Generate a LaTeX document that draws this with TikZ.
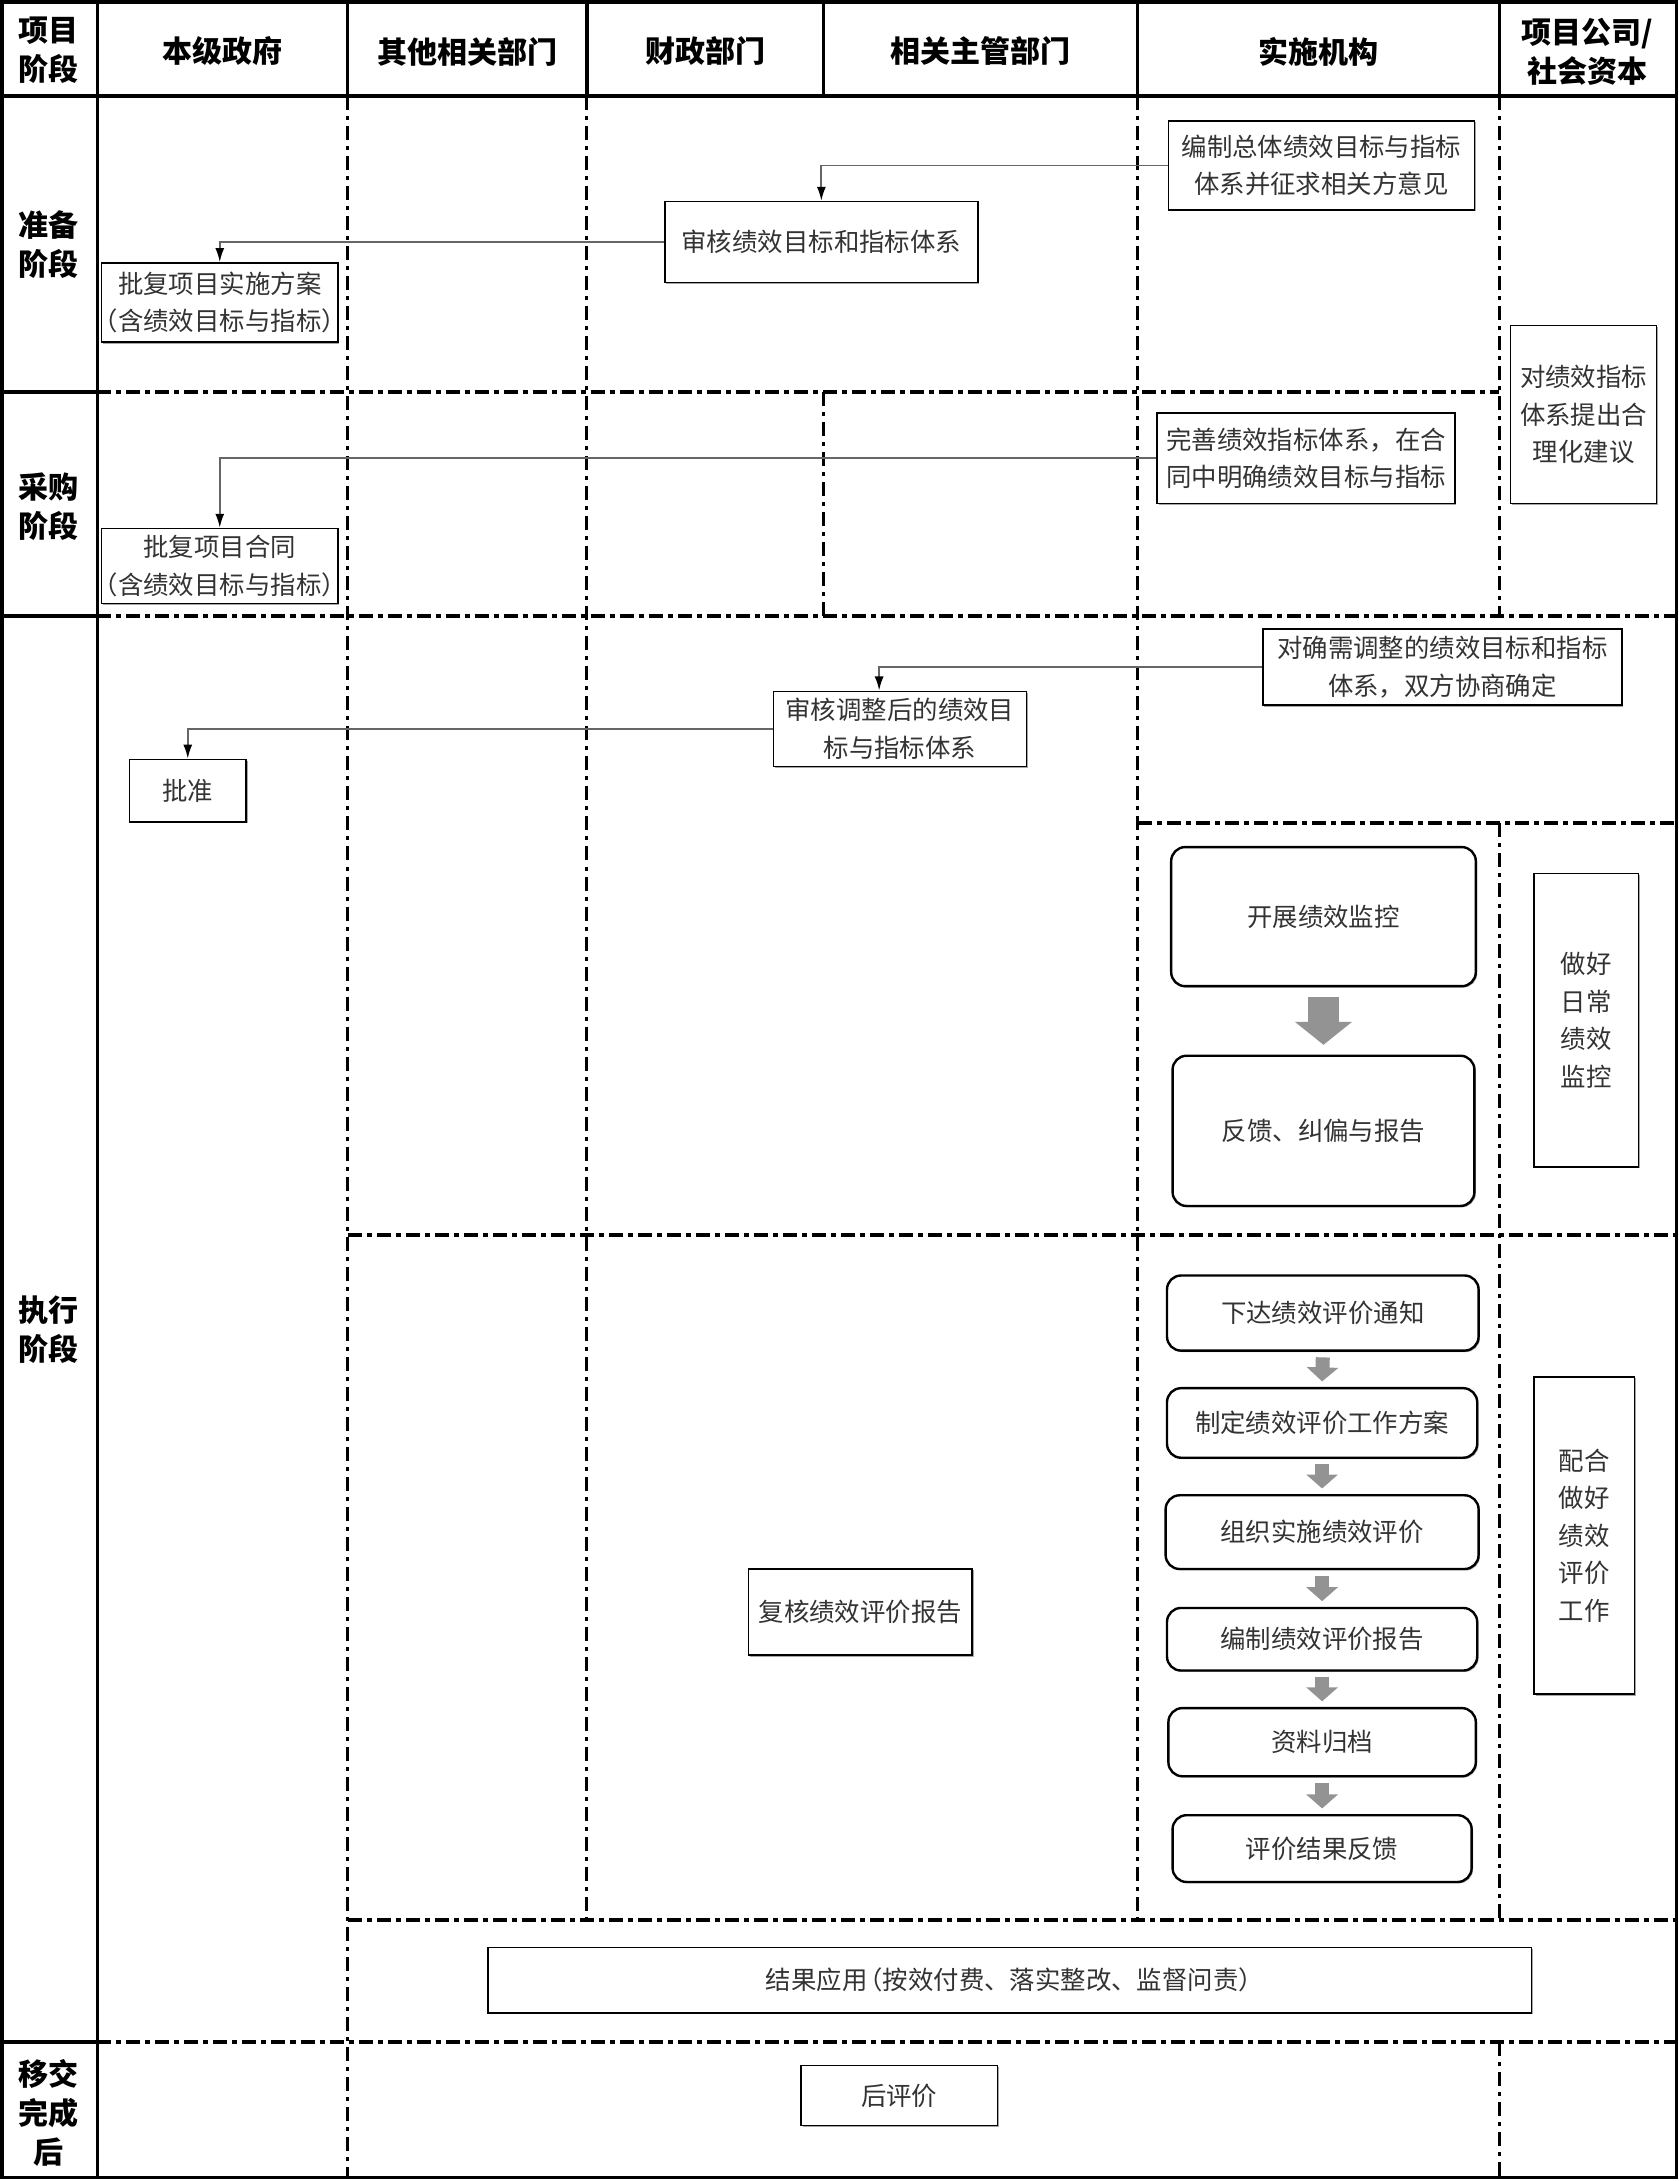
\documentclass[tikz,border=0pt]{standalone}
\usepackage{fontspec}
\setmainfont{Noto Sans CJK SC}
\usetikzlibrary{arrows.meta,shadows,calc}
\newcommand\bodyfont{\fontsize{12.7}{18.8}\selectfont}
\newcommand\hdrfont{\fontsize{15}{19.5}\selectfont\bfseries}
\newcommand\lpar{\makebox[0.6em][r]{（}}
\newcommand\rpar{\makebox[0.6em][l]{）}}
\tikzset{
  sq/.style={draw=black, line width=0.8pt, fill=white, align=center, inner sep=0pt,
    text=black!80, font=\bodyfont,
    drop shadow={shadow xshift=0.7pt, shadow yshift=-0.7pt, opacity=0.35, fill=black}},
  rbox/.style={sq, rounded corners=7pt, line width=1.2pt},
  wh/.style 2 args={minimum width=#1*0.695pt, minimum height=#2*0.695pt},
  hdr/.style={font=\hdrfont, align=center, inner sep=0pt, text=black},
  conn/.style={draw=gray!80!black, line width=0.9pt, -{Latex[length=7pt,width=4.5pt,color=black]}},
  bigarr/.style={draw=gray!85, line width=15.5pt, -{Triangle[length=11.5pt,width=28pt]}},
  smallarr/.style={draw=gray!85, line width=7pt, -{Triangle[length=7pt,width=15.5pt]}},
  solidl/.style={line width=1.6pt},
  hdd/.style={line width=2pt, dash pattern=on 7pt off 2.5pt on 2.5pt off 2.5pt},
  vdd/.style={line width=1.5pt, dash pattern=on 7pt off 3pt on 2pt off 3pt},
}
\begin{document}
\begin{tikzpicture}[x=0.695pt,y=-0.695pt]
\useasboundingbox (0,0) rectangle (1207,1568);
% ---------- grid ----------
\draw[solidl] (1.5,1.5) rectangle (1205.5,1565.5);
\draw[line width=2.4pt] (1,69) -- (1206,69);
\foreach \x in {70,250,422,592,818,1078} \draw[solidl] (\x,1) -- (\x,69);
\draw[solidl] (70,69) -- (70,1565);
\foreach \y in {282,443,1468} \draw[line width=2pt] (1,\y) -- (70,\y);
% dash-dot horizontals
\draw[hdd] (70,282) -- (1078,282);
\draw[hdd] (70,443) -- (1205,443);
\draw[hdd] (818,592) -- (1205,592);
\draw[hdd] (250,888) -- (1205,888);
\draw[hdd] (250,1380) -- (1205,1380);
\draw[hdd] (70,1468) -- (1205,1468);
% dashed verticals
\draw[vdd] (250,69) -- (250,1565);
\draw[vdd] (422,69) -- (422,1380);
\draw[vdd] (592,282) -- (592,443);
\draw[vdd] (818,69) -- (818,1380);
\draw[vdd] (1078,69) -- (1078,443);
\draw[vdd] (1078,592) -- (1078,1380);
\draw[vdd] (1078,1468) -- (1078,1565);
% ---------- headers ----------
\node[hdr] (h0) at (35,36) {项目\\阶段};
\node[hdr] (h1) at (160,37) {本级政府};
\node[hdr] (h2) at (336,37) {其他相关部门};
\node[hdr] (h3) at (507,37) {财政部门};
\node[hdr] (h4) at (705,37) {相关主管部门};
\node[hdr] (h5) at (948,37) {实施机构};
\node[hdr] (h6) at (1141,37) {项目公司/\\社会资本};
\node[hdr] (p1) at (35,176) {准备\\阶段};
\node[hdr] (p2) at (35,364) {采购\\阶段};
\node[hdr] (p3) at (35,956) {执行\\阶段};
\node[hdr] (p4) at (35,1519) {移交\\完成\\后};
% ---------- boxes ----------
\node[sq, wh={220}{64}] (b1) at (950,119) {编制总体绩效目标与指标\\体系并征求相关方意见};
\node[sq, wh={225}{58}] (b2) at (590.5,174) {审核绩效目标和指标体系};
\node[sq, wh={170}{57}] (b3) at (158,217.5) {批复项目实施方案\\\lpar 含绩效目标与指标\rpar};
\node[sq, wh={105}{128}] (b4) at (1138.5,298) {对绩效指标\\体系提出合\\理化建议};
\node[sq, wh={214}{65}] (b5) at (939,329.5) {完善绩效指标体系，在合\\同中明确绩效目标与指标};
\node[sq, wh={170}{54}] (b6) at (158,407) {批复项目合同\\\lpar 含绩效目标与指标\rpar};
\node[sq, wh={258}{55}] (b7) at (1037,479.5) {对确需调整的绩效目标和指标\\体系，双方协商确定};
\node[sq, wh={182}{54}] (b8) at (647,524) {审核调整后的绩效目\\标与指标体系};
\node[sq, wh={84}{45}] (b9) at (135,568.5) {批准};
\node[rbox, wh={219}{100}] (m1) at (951.5,659) {开展绩效监控};
\node[rbox, wh={217}{108}] (m2) at (951.5,813) {反馈、纠偏与报告};
\node[sq, wh={75}{211}] (m3) at (1140.5,733.5) {做好\\日常\\绩效\\监控};
\node[rbox, wh={224}{54}] (e1) at (951,944) {下达绩效评价通知};
\node[rbox, wh={223}{50}] (e2) at (950.5,1023) {制定绩效评价工作方案};
\node[rbox, wh={225}{53}] (e3) at (950.5,1101.5) {组织实施绩效评价};
\node[rbox, wh={223}{45}] (e4) at (950.5,1178.5) {编制绩效评价报告};
\node[rbox, wh={221}{49}] (e5) at (950.5,1252.5) {资料归档};
\node[rbox, wh={215}{48}] (e6) at (950.5,1329) {评价结果反馈};
\node[sq, wh={72}{228}] (e7) at (1139,1104) {配合\\做好\\绩效\\评价\\工作};
\node[sq, wh={161}{62}] (r1) at (618.5,1159) {复核绩效评价报告};
\node[sq, wh={750}{47}] (r2) at (726,1423.5) {结果应用\lpar 按效付费、落实整改、监督问责\rpar};
\node[sq, wh={141}{43}] (r3) at (646.5,1506.5) {后评价};
% ---------- connectors ----------
\draw[conn] (b1.west) -| (b2.north);
\draw[conn] (b2.west) -| (b3.north);
\draw[conn] (b5.west) -| (b6.north);
\draw[conn] (b7.west) -| ([xshift=-10.4pt]b8.north);
\draw[conn] (b8.west) -| (b9.north);
% ---------- block arrows ----------
\draw[bigarr] ($(m1.south)+(0,7)$) -- ($(m2.north)+(0,-7)$);
\draw[smallarr] ($(e1.south)+(0,4)$) -- ($(e2.north)+(0,-4)$);
\draw[smallarr] ($(e2.south)+(0,4)$) -- ($(e3.north)+(0,-4)$);
\draw[smallarr] ($(e3.south)+(0,4)$) -- ($(e4.north)+(0,-4)$);
\draw[smallarr] ($(e4.south)+(0,4)$) -- ($(e5.north)+(0,-4)$);
\draw[smallarr] ($(e5.south)+(0,4)$) -- ($(e6.north)+(0,-4)$);
\end{tikzpicture}
\end{document}
